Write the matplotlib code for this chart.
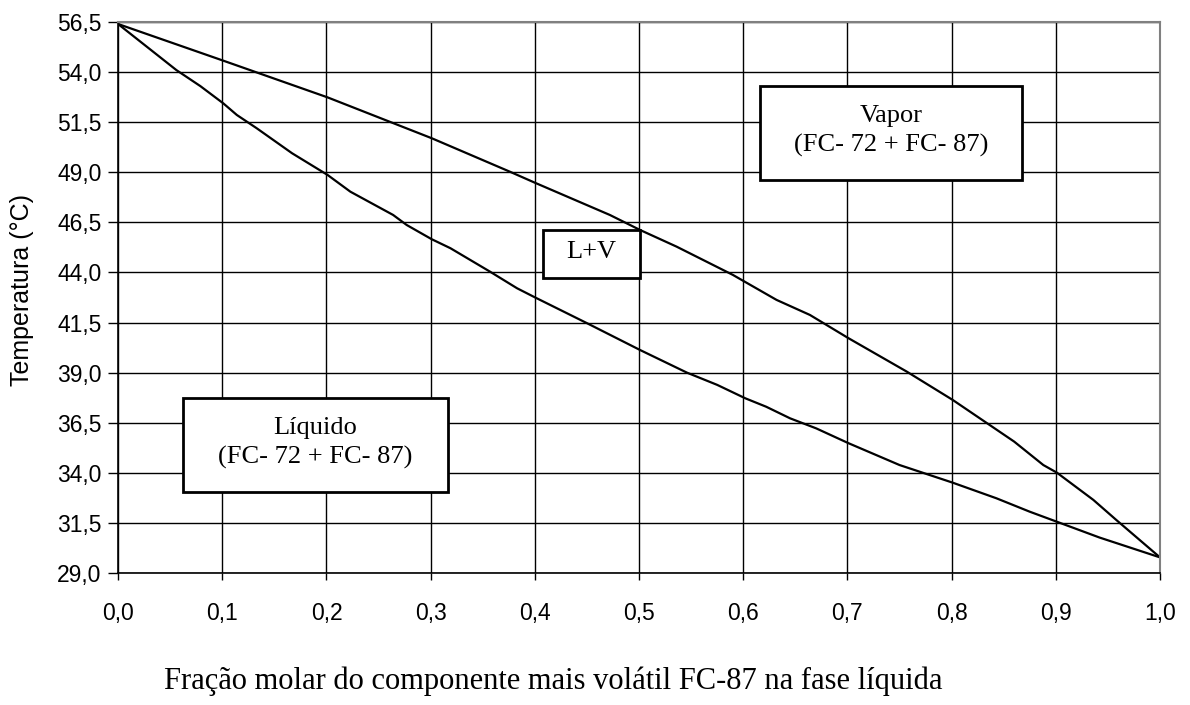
"""Diagrama T-x do sistema FC-72 / FC-87."""

import matplotlib
matplotlib.use("Agg")

import matplotlib.pyplot as plt
import numpy as np

# curva de orvalho (vapor)
x_vapor = [0.0, 0.101, 0.201, 0.301, 0.376, 0.400, 0.472, 0.501, 0.536,
           0.590, 0.632, 0.664, 0.701, 0.757, 0.801, 0.860, 0.888, 0.901,
           0.936, 0.958, 1.0]
t_vapor = [56.4, 54.57, 52.74, 50.70, 49.03, 48.48, 46.87, 46.12, 45.29,
           43.88, 42.63, 41.88, 40.72, 39.05, 37.64, 35.56, 34.39, 34.01,
           32.65, 31.65, 29.78]

# curva de bolha (líquido)
x_liq = [0.0, 0.056, 0.079, 0.101, 0.114, 0.133, 0.167, 0.201, 0.223,
         0.264, 0.277, 0.301, 0.319, 0.357, 0.383, 0.400, 0.450, 0.501,
         0.546, 0.575, 0.602, 0.622, 0.645, 0.670, 0.701, 0.750, 0.801,
         0.843, 0.875, 0.901, 0.942, 1.0]
t_liq = [56.4, 54.1, 53.3, 52.44, 51.86, 51.2, 49.95, 48.87, 48.03,
         46.87, 46.37, 45.66, 45.21, 44.04, 43.21, 42.76, 41.47, 40.13,
         39.0, 38.39, 37.72, 37.30, 36.72, 36.22, 35.48, 34.39, 33.51,
         32.73, 32.06, 31.56, 30.77, 29.78]

x_ticks = np.round(np.arange(0, 1.01, 0.1), 1)
y_ticks = np.arange(29.0, 56.6, 2.5)

fig = plt.figure(figsize=(11.9, 7.05), dpi=100)
ax = fig.add_axes([0.0992, 0.1872, 0.8756, 0.7816])

ax.plot(x_vapor, t_vapor, color="black", linewidth=1.6, zorder=2)
ax.plot(x_liq, t_liq, color="black", linewidth=1.6, zorder=2)

ax.set_xlim(0, 1)
ax.set_ylim(29.0, 56.5)
ax.set_xticks(x_ticks)
ax.set_yticks(y_ticks)
ax.set_xticklabels([f"{v:.1f}".replace(".", ",") for v in x_ticks])
ax.set_yticklabels([f"{v:.1f}".replace(".", ",") for v in y_ticks])
ax.grid(True, color="black", linewidth=1.0)
ax.set_axisbelow(True)

sans = "Liberation Sans"
serif = "Liberation Serif"
for lbl in ax.get_xticklabels() + ax.get_yticklabels():
    lbl.set_fontfamily(sans)
    lbl.set_fontsize(16.5)
ax.tick_params(axis="x", direction="out", length=5, pad=16, width=1)
ax.tick_params(axis="y", direction="out", length=7, pad=5, width=1)

for side in ["top", "right"]:
    ax.spines[side].set_color("#808080")
    ax.spines[side].set_linewidth(1.5)
for side in ["left", "bottom"]:
    ax.spines[side].set_color("black")
    ax.spines[side].set_linewidth(1.2)

ax.set_ylabel("Temperatura (°C)", fontfamily=sans, fontsize=18, va="center")
ax.yaxis.set_label_coords(-0.092, 0.514)
fig.text(0.465, 0.034, "Fração molar do componente mais volátil FC-87 na fase líquida",
         ha="center", va="center", fontfamily=serif, fontsize=22)


def label_box(x0, x1, y0, y1, text):
    ax.add_patch(plt.Rectangle((x0, y0), x1 - x0, y1 - y0, facecolor="white",
                               edgecolor="black", linewidth=2, zorder=3))
    ax.text((x0 + x1) / 2, (y0 + y1) / 2 + 0.1, text, ha="center", va="center",
            fontfamily=serif, fontsize=19, linespacing=1.4, zorder=4)


label_box(0.616, 0.868, 48.62, 53.31, "Vapor\n(FC- 72 + FC- 87)")
label_box(0.408, 0.501, 43.71, 46.12, "L+V")
label_box(0.062, 0.317, 33.05, 37.74, "Líquido\n(FC- 72 + FC- 87)")

fig.savefig("out.png", dpi=100)
plt.close(fig)
